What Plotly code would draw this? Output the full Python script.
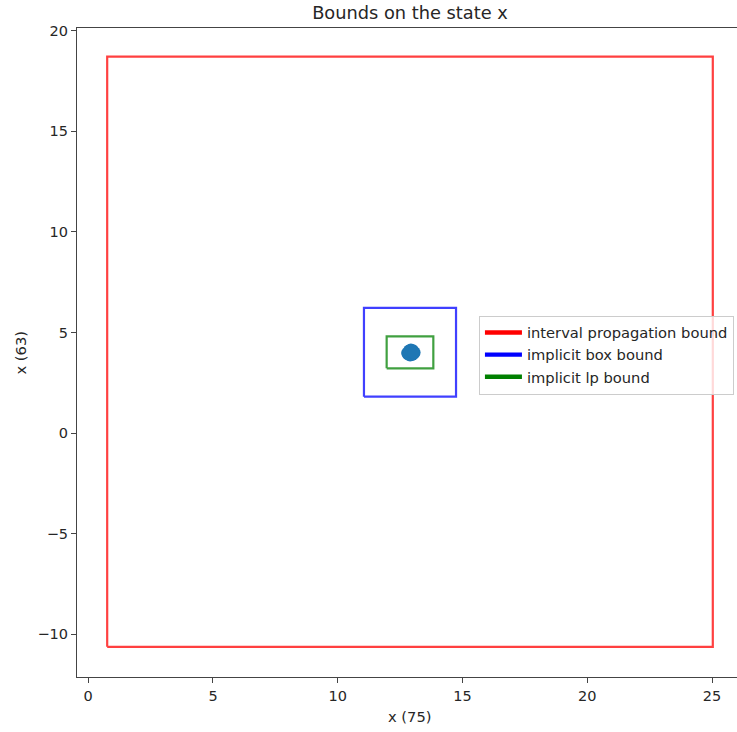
import plotly.graph_objects as go

# Box bounds: [x_min, x_max, y_min, y_max]
interval_bound = [0.76, 25.03, -10.62, 18.71]
box_bound = [11.05, 14.74, 1.81, 6.22]
lp_bound = [11.96, 13.83, 3.22, 4.81]

# Sampled states
state_x = [12.78, 12.86, 12.93, 13.01, 13.08, 12.82, 12.90, 12.98, 13.05, 12.88, 12.96, 13.03]
state_y = [3.98, 4.10, 4.16, 4.12, 4.01, 3.90, 3.86, 3.88, 3.94, 4.03, 4.06, 3.99]

legend_names = ["interval propagation bound", "implicit box bound", "implicit lp bound"]
legend_colors = ["#ff0000", "#0000ff", "#008000"]
box_colors = ["rgba(255,0,0,0.75)", "rgba(0,0,255,0.75)", "rgba(0,128,0,0.75)"]

FONT = "DejaVu Sans"
TEXT = "#262626"


def rect_path(b):
    x0, x1, y0, y1 = b
    return [x0, x1, x1, x0, x0], [y0, y0, y1, y1, y0]


fig = go.Figure()

for b, col in zip([interval_bound, box_bound, lp_bound], box_colors):
    xs, ys = rect_path(b)
    fig.add_trace(go.Scatter(x=xs, y=ys, mode="lines",
                             line=dict(color=col, width=2.2),
                             showlegend=False, hoverinfo="skip"))

fig.add_trace(go.Scatter(x=state_x, y=state_y, mode="markers",
                         marker=dict(color="#1f77b4", size=12, line=dict(width=0)),
                         showlegend=False))

# legend handles
for i, (name, col) in enumerate(zip(legend_names, legend_colors)):
    fig.add_trace(go.Scatter(x=[None], y=[None], mode="lines", name=name,
                             line=dict(color=col, width=4.4),
                             legendgroup=f"g{i}"))

axis_common = dict(
    showgrid=False, zeroline=False,
    showline=True, linecolor="#444444", linewidth=1.2,
    ticks="outside", ticklen=5, tickwidth=1, tickcolor="#444444",
    tickfont=dict(family=FONT, size=14.5, color=TEXT),
)

fig.update_layout(
    width=737, height=732,
    margin=dict(l=77, r=0, t=28, b=55),
    paper_bgcolor="white", plot_bgcolor="white",
    title=dict(text="Bounds on the state x",
               font=dict(family=FONT, size=17.8, color=TEXT),
               x=410 / 737, xanchor="center", xref="container",
               y=1 - 12.5 / 732, yanchor="middle", yref="container"),
    xaxis=dict(range=[-0.45, 26.0], tickvals=[0, 5, 10, 15, 20, 25],
               mirror=True, **axis_common),
    yaxis=dict(range=[-12.12, 20.13], tickvals=[-10, -5, 0, 5, 10, 15, 20],
               tickformat="d", mirror=False, **axis_common),
    legend=dict(x=0.609, y=0.557, xanchor="left", yanchor="top",
                bgcolor="rgba(255,255,255,0.8)", bordercolor="#cccccc",
                borderwidth=1, traceorder="grouped", tracegroupgap=0,
                itemwidth=37,
                font=dict(family=FONT, size=14.7, color=TEXT)),
    annotations=[
        dict(text="x (75)", xref="paper", yref="paper", x=(410 - 77) / 660,
             y=(677 - 717) / 649, xanchor="center", yanchor="middle", showarrow=False,
             font=dict(family=FONT, size=14.7, color=TEXT)),
        dict(text="x (63)", xref="paper", yref="paper", x=(20 - 77) / 660,
             y=(677 - 352.5) / 649, xanchor="center", yanchor="middle", showarrow=False,
             textangle=-90, font=dict(family=FONT, size=14.7, color=TEXT)),
    ],
)

fig.write_html("out.html")
